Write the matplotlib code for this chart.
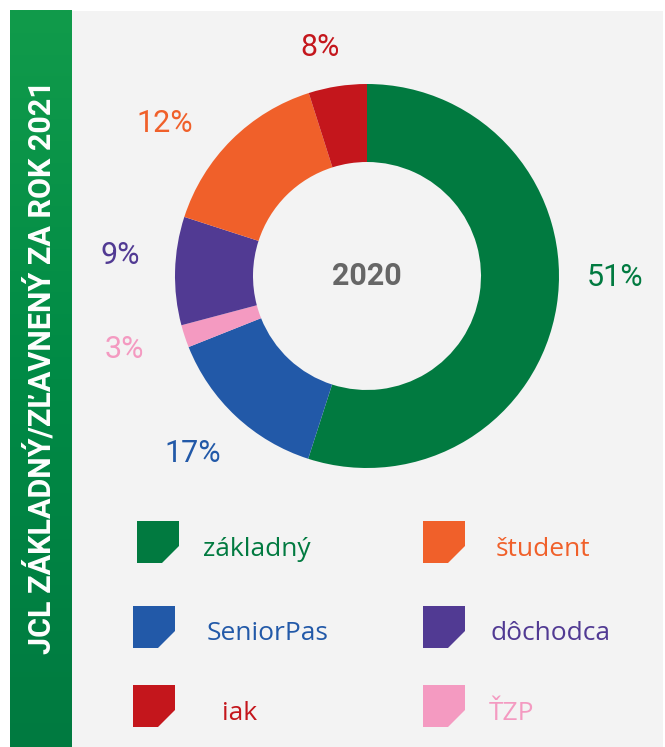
import numpy as np
import matplotlib.pyplot as plt
from matplotlib.patches import Rectangle, Polygon
from matplotlib.colors import LinearSegmentedColormap

# slice order clockwise from 12 o'clock
categories = ["základný", "SeniorPas", "ŤZP", "dôchodca", "študent", "iak"]
shares = [54.9, 14.0, 1.9, 9.1, 15.1, 4.9]          # visual share of the ring
labels = ["51%", "17%", "3%", "9%", "12%", "8%"]     # printed percentages
colors = ["#017a40", "#2259a8", "#f49ac1", "#513a93", "#f0602a", "#c4161c"]
center_label = "2020"
side_title = "JCL ZÁKLADNÝ/ZĽAVNENÝ ZA ROK 2021"

# label positions in pixels (x, y from top)
label_pos = [(615, 277), (193, 453), (124, 350), (120, 255), (165, 123), (320, 48)]

# legend layout: (category index, marker left, marker top, text x, text baseline)
legend_items = [(0, 137, 521, 203, 556), (4, 423, 521, 496, 556),
                (1, 133, 606, 207, 640), (3, 423, 606, 490, 640),
                (5, 133, 685, 222, 720), (2, 423, 685, 489, 720)]

W, H = 665, 747
fig = plt.figure(figsize=(W / 100, H / 100), dpi=100)
fig.patch.set_facecolor("white")

# background axes in pixel coordinates
bg = fig.add_axes([0, 0, 1, 1])
bg.set_xlim(0, W)
bg.set_ylim(H, 0)
bg.axis("off")

bg.add_patch(Rectangle((72, 11), 591, 736, color="#f3f3f3", lw=0))
grad = LinearSegmentedColormap.from_list("g", ["#119b4b", "#008a45", "#017a40"])
bg.imshow(np.linspace(0, 1, 256).reshape(-1, 1), cmap=grad, aspect="auto",
          extent=[10, 72, 747, 10], zorder=1)
bg.text(41, 367, side_title, rotation=90, color="white", fontsize=22,
        fontweight="bold", family="Roboto", ha="center", va="center", zorder=2)

for (x, y), lab, c in zip(label_pos, labels, colors):
    bg.text(x, y, lab, color=c, fontsize=22, family="Roboto",
            ha="center", va="center")

s, cut = 42, 17
for i, mx, my, tx, ty in legend_items:
    pts = [(mx, my), (mx + s, my), (mx + s, my + s - cut),
           (mx + s - cut, my + s), (mx, my + s)]
    bg.add_patch(Polygon(pts, closed=True, color=colors[i], lw=0))
    bg.text(tx, ty, categories[i], color=colors[i], fontsize=19,
            family="Open Sans", ha="left", va="baseline")

# donut
cx, cy, R = 367, 276, 200
ax = fig.add_axes([(cx - R) / W, (H - cy - R) / H, 2 * R / W, 2 * R / H])
ax.pie(shares, colors=colors, startangle=90, counterclock=False, radius=0.96,
       wedgeprops=dict(width=0.39, linewidth=0))
ax.set_xlim(-1, 1)
ax.set_ylim(-1, 1)
ax.set_aspect("equal")
ax.axis("off")
ax.text(0, 0, center_label, color="#666666", fontsize=22, fontweight="bold",
        family="Roboto", ha="center", va="center")

fig.savefig("out.png", dpi=100)
